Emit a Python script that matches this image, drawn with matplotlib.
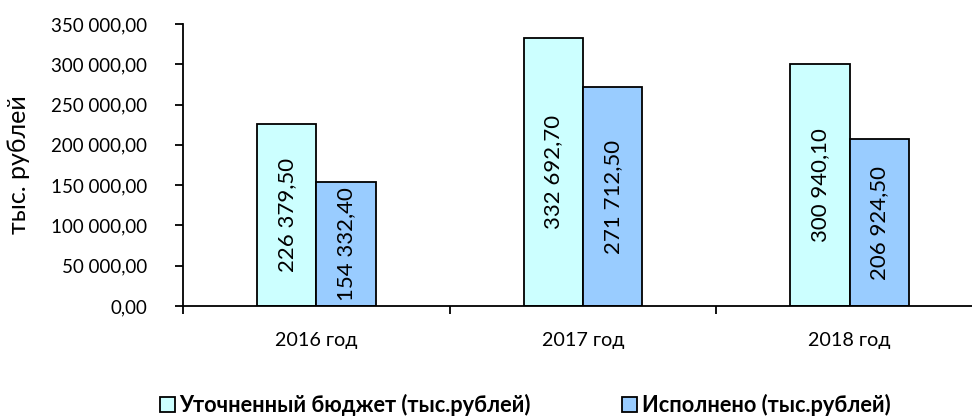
import matplotlib
matplotlib.use("Agg")
import matplotlib.pyplot as plt
from matplotlib.ticker import FuncFormatter, MultipleLocator
import numpy as np

plt.rcParams['font.family'] = ['Lato', 'DejaVu Sans']

categories = ["2016 год", "2017 год", "2018 год"]
budget = [226379.50, 332692.70, 300940.10]
executed = [154332.40, 271712.50, 206924.50]
series_names = ["Уточненный бюджет (тыс.рублей)", "Исполнено (тыс.рублей)"]
ylabel = "тыс. рублей"

def fmt_ru(v):
    s = f"{v:,.2f}"
    return s.replace(",", " ").replace(".", ",")

fig = plt.figure(figsize=(9.72, 4.17), dpi=100)
ax = fig.add_axes([183/972, 1-306/417, 800/972, (306-24)/417])

x = np.arange(len(categories))
w = 0.223
c1, c2 = "#CCFFFF", "#99CCFF"
b1 = ax.bar(x - w/2, budget, w, color=c1, edgecolor="black", linewidth=1.3, label=series_names[0])
b2 = ax.bar(x + w/2, executed, w, color=c2, edgecolor="black", linewidth=1.3, label=series_names[1])

for bars, vals in ((b1, budget), (b2, executed)):
    for r, v in zip(bars, vals):
        ax.text(r.get_x() + r.get_width()/2, v/2, fmt_ru(v), rotation=90,
                ha="center", va="center", fontsize=16, color="black")

ax.set_xlim(-0.5, 2.5)
ax.set_ylim(0, 350000)
ax.yaxis.set_major_locator(MultipleLocator(50000))
ax.yaxis.set_major_formatter(FuncFormatter(lambda v, p: fmt_ru(v)))
ax.set_xticks([-0.5, 0.5, 1.5, 2.5])
ax.set_xticklabels([])
ax.set_xticks(x, minor=True)
ax.set_xticklabels(categories, minor=True, fontsize=14.2)
ax.tick_params(axis="x", which="minor", length=0, pad=19)
ax.tick_params(axis="x", which="major", length=6, width=1.3, direction="out")
ax.tick_params(axis="y", length=6, width=1.3, direction="out", labelsize=13.5, pad=20)

for s in ("top", "right"):
    ax.spines[s].set_visible(False)
for s in ("left", "bottom"):
    ax.spines[s].set_linewidth(1.3)

ax.set_ylabel(ylabel, fontsize=18)
ax.yaxis.set_label_coords(30/972, 1-165/417, transform=fig.transFigure)

leg = fig.legend(handles=[b1, b2], labels=series_names, loc="center",
                 bbox_to_anchor=(525/972, 1-405/417), ncol=2, frameon=False,
                 prop={"weight": "bold", "size": 15.7}, handlelength=0.7,
                 handleheight=0.7, handletextpad=0.2, columnspacing=4.2)

fig.savefig("out.png", dpi=100)
